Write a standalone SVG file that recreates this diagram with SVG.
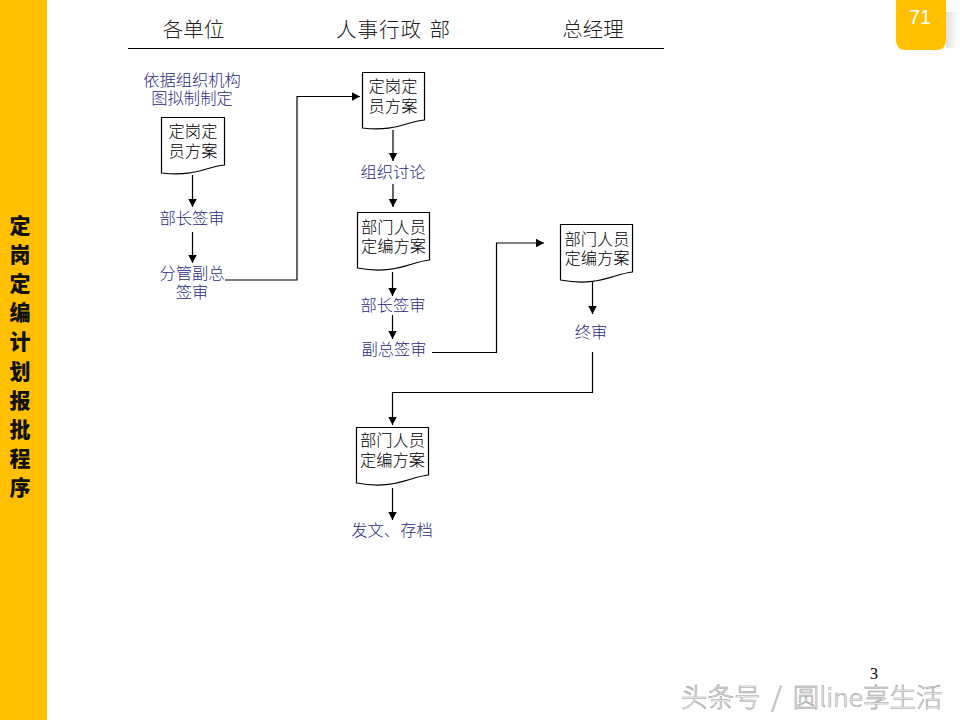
<svg xmlns="http://www.w3.org/2000/svg" width="960" height="720" viewBox="0 0 960 720">
<style>
.head{font-family:"Noto Sans CJK SC",sans-serif;font-size:20.500px;fill:#222;text-anchor:middle;font-weight:300}
.doc{fill:#fff;stroke:#000;stroke-width:1.2}
.dt{font-family:"Noto Sans CJK SC",sans-serif;font-size:16.300px;font-weight:300;fill:#000;text-anchor:middle}
.lb{font-family:"Noto Sans CJK SC",sans-serif;font-size:16.300px;font-weight:300;fill:#2b2b85;text-anchor:middle}
.c{fill:none;stroke:#000;stroke-width:1.2;marker-end:url(#a)}
.side{font-family:"Noto Sans CJK SC",sans-serif;font-size:21px;font-weight:900;fill:#111;text-anchor:middle}
</style>
<defs>
<marker id="a" markerUnits="userSpaceOnUse" markerWidth="10" markerHeight="10" refX="8.500" refY="4.500" orient="auto"><path d="M0,0L8.500,4.500L0,9Z" fill="#000"/></marker>
<linearGradient id="sh" x1="0" x2="1"><stop offset="0" stop-color="#ccc"/><stop offset="1" stop-color="#fff"/></linearGradient>
</defs>
<rect width="960" height="720" fill="#fff"/>
<rect id="sidebar" x="0" y="0" width="47" height="720" fill="#ffc000"/>
<g id="sidetitle" class="side">
<text x="20" y="233">定</text><text x="20" y="262">岗</text><text x="20" y="291">定</text><text x="20" y="320">编</text><text x="20" y="349">计</text><text x="20" y="379">划</text><text x="20" y="408">报</text><text x="20" y="437">批</text><text x="20" y="466">程</text><text x="20" y="495">序</text>
</g>
<g id="badge">
<rect x="946" y="12" width="12" height="36" fill="url(#sh)" opacity=".6"/>
<path d="M896,0H946V40Q946,50 936,50H906Q896,50 896,40Z" fill="#ffc000"/>
<text x="920" y="24" font-family="Liberation Sans,sans-serif" font-size="20" fill="#fff" text-anchor="middle">71</text>
</g>
<g id="header">
<text class="head" x="193.500" y="37">各单位</text>
<text class="head" x="393.500" y="37" word-spacing="2" letter-spacing="1">人事行政 部</text>
<text class="head" x="593" y="37">总经理</text>
<line x1="128" y1="48.500" x2="664" y2="48.500" stroke="#000" stroke-width="1.200"/>
</g>
<g id="connectors">
<path class="c" d="M192.500,175V207"/>
<path class="c" d="M192.500,232V263"/>
<path class="c" d="M225,280H297V96.500H360"/>
<path class="c" d="M393,130V161"/>
<path class="c" d="M393,184V207"/>
<path class="c" d="M392.500,272V296"/>
<path class="c" d="M392.500,315V339"/>
<path class="c" d="M432,352.500H496.500V243H544"/>
<path class="c" d="M592.500,282V314"/>
<path class="c" d="M592.500,352V392.500H392.500V425"/>
<path class="c" d="M392.500,488V520"/>
</g>
<g id="n1"><text class="lb" x="192" y="86">依据组织机构<tspan x="192" y="104">图拟制制定</tspan></text></g>
<g id="n2"><path class="doc" d="M161.500,117.500H224.500V165C205,167 195,177 161.500,173Z"/><text class="dt" x="193" y="137">定岗定<tspan x="193" y="157">员方案</tspan></text></g>
<g id="n3"><text class="lb" x="192" y="224">部长签审</text></g>
<g id="n4"><text class="lb" x="192" y="279">分管副总<tspan x="192" y="298">签审</tspan></text></g>
<g id="n5"><path class="doc" d="M362.500,72.500H424.500V120C405,122 395,132 362.500,128Z"/><text class="dt" x="393" y="92">定岗定<tspan x="393" y="112">员方案</tspan></text></g>
<g id="n6"><text class="lb" x="393" y="178">组织讨论</text></g>
<g id="n7"><path class="doc" d="M357.500,212.500H429.500V260C410,262 395,275 357.500,268Z"/><text class="dt" x="393.500" y="233">部门人员<tspan x="393.500" y="252">定编方案</tspan></text></g>
<g id="n8"><text class="lb" x="393" y="311">部长签审</text></g>
<g id="n9"><text class="lb" x="394" y="355">副总签审</text></g>
<g id="n10"><path class="doc" d="M560.500,224.500H632.500V272C613,274 598,287 560.500,280Z"/><text class="dt" x="597" y="245">部门人员<tspan x="597" y="264">定编方案</tspan></text></g>
<g id="n11"><text class="lb" x="591" y="338">终审</text></g>
<g id="n12"><path class="doc" d="M356.500,427.500H428.500V475C409,477 394,490 356.500,483Z"/><text class="dt" x="392.500" y="446">部门人员<tspan x="392.500" y="466">定编方案</tspan></text></g>
<g id="n13"><text class="lb" x="392" y="536">发文、存档</text></g>
<text id="pageno" x="874" y="679" font-family="Liberation Serif,serif" font-size="16" fill="#000" text-anchor="middle">3</text>
<g id="watermark"><text x="681" y="707" font-family="Noto Sans CJK SC,sans-serif" font-size="26.500" word-spacing="5" fill="#fff" stroke="#999" stroke-width=".6" font-weight="300">头条号 / 圆line享生活</text></g>
</svg>
